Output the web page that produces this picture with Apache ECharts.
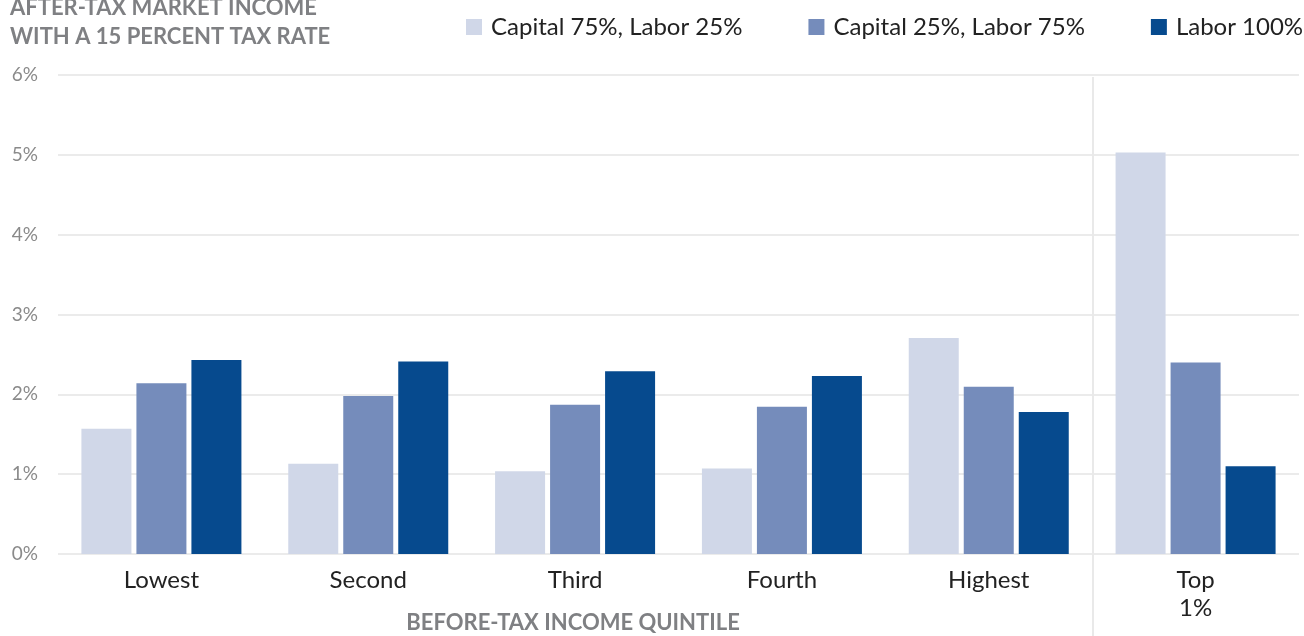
<!DOCTYPE html>
<html lang="en" style="height: 100%">
<head>
  <meta charset="utf-8">
  <title>After-tax market income with a 15 percent tax rate</title>
</head>
<body style="height: 100%; margin: 0; background: #fff">
  <div id="container" style="width: 1304px; height: 636px"></div>
  <script type="text/javascript" src="https://cdn.jsdelivr.net/npm/echarts@6.0.0/dist/echarts.min.js"></script>
  <script type="text/javascript">
    // categories and values (percent)
    const quintiles = ['Lowest', 'Second', 'Third', 'Fourth', 'Highest', 'Top\n1%'];
    const seriesNames = ['Capital 75%, Labor 25%', 'Capital 25%, Labor 75%', 'Labor 100%'];
    const capital75 = [1.57, 1.13, 1.035, 1.07, 2.705, 5.03];
    const capital25 = [2.14, 1.98, 1.87, 1.845, 2.095, 2.40];
    const labor100 = [2.43, 2.41, 2.29, 2.23, 1.78, 1.10];
    const yTicks = [0, 1, 2, 3, 4, 5, 6];

    const colors = ['#d0d7e8', '#758cbb', '#064a8e'];
    const font = 'Lato, "Open Sans", sans-serif';

    var dom = document.getElementById('container');
    var myChart = echarts.init(dom, null, { renderer: 'canvas' });

    function bar(name, data, i) {
      return {
        name: name,
        type: 'bar',
        data: data,
        barWidth: 50,
        barGap: '10%',
        itemStyle: { color: colors[i] }
      };
    }

    var option = {
      animation: false,
      color: colors,
      title: {
        text: 'AFTER-TAX MARKET INCOME\nWITH A 15 PERCENT TAX RATE',
        left: 10,
        top: -7,
        padding: 0,
        textStyle: {
          fontFamily: font,
          fontWeight: 'bold',
          fontSize: 22,
          lineHeight: 29,
          color: '#7f8083'
        }
      },
      legend: {
        left: 466,
        top: 15,
        padding: 0,
        icon: 'rect',
        itemWidth: 16,
        itemHeight: 16,
        itemGap: 66,
        textStyle: { fontFamily: font, fontSize: 24, color: '#222', padding: [0, 0, 0, 4] },
        data: seriesNames
      },
      grid: {
        left: 58,
        right: 5,
        top: 75,
        bottom: 82
      },
      xAxis: {
        type: 'category',
        data: quintiles,
        axisLine: { show: false },
        axisTick: { show: false },
        axisLabel: {
          margin: 12,
          fontFamily: font,
          fontSize: 24,
          lineHeight: 28,
          color: '#222'
        }
      },
      yAxis: {
        type: 'value',
        min: yTicks[0],
        max: yTicks[yTicks.length - 1],
        interval: 1,
        axisLabel: {
          margin: 20,
          fontFamily: font,
          fontSize: 19,
          color: '#8a8a8a',
          formatter: '{value}%'
        },
        splitLine: { lineStyle: { color: '#ebebeb', width: 2 } }
      },
      series: [
        bar(seriesNames[0], capital75, 0),
        bar(seriesNames[1], capital25, 1),
        bar(seriesNames[2], labor100, 2)
      ]
    };

    myChart.setOption(option);

    // divider between the quintiles and the top 1%, placed from the axis scales
    function addDivider() {
      var xA = myChart.convertToPixel({ xAxisIndex: 0 }, quintiles[4]);
      var xB = myChart.convertToPixel({ xAxisIndex: 0 }, quintiles[5]);
      var x = Math.round((xA + xB) / 2) + 1;
      var yTop = myChart.convertToPixel({ yAxisIndex: 0 }, yTicks[yTicks.length - 1]) + 2;
      var xMidQuintiles = (myChart.convertToPixel({ xAxisIndex: 0 }, quintiles[0]) + xA) / 2;
      myChart.setOption({
        graphic: [
          {
            id: 'divider',
            type: 'line',
            shape: { x1: x, y1: yTop, x2: x, y2: myChart.getHeight() },
            style: { stroke: '#e9e9e9', lineWidth: 2 },
            z: 1
          },
          {
            id: 'xname',
            type: 'text',
            x: xMidQuintiles - 2,
            y: 612,
            style: {
              text: 'BEFORE-TAX INCOME QUINTILE',
              textAlign: 'center',
              fontFamily: font,
              fontWeight: 'bold',
              fontSize: 22,
              fill: '#7f8083'
            }
          }
        ]
      });
    }
    addDivider();

    window.addEventListener('resize', function () {
      myChart.resize();
      addDivider();
    });
  </script>
</body>
</html>
